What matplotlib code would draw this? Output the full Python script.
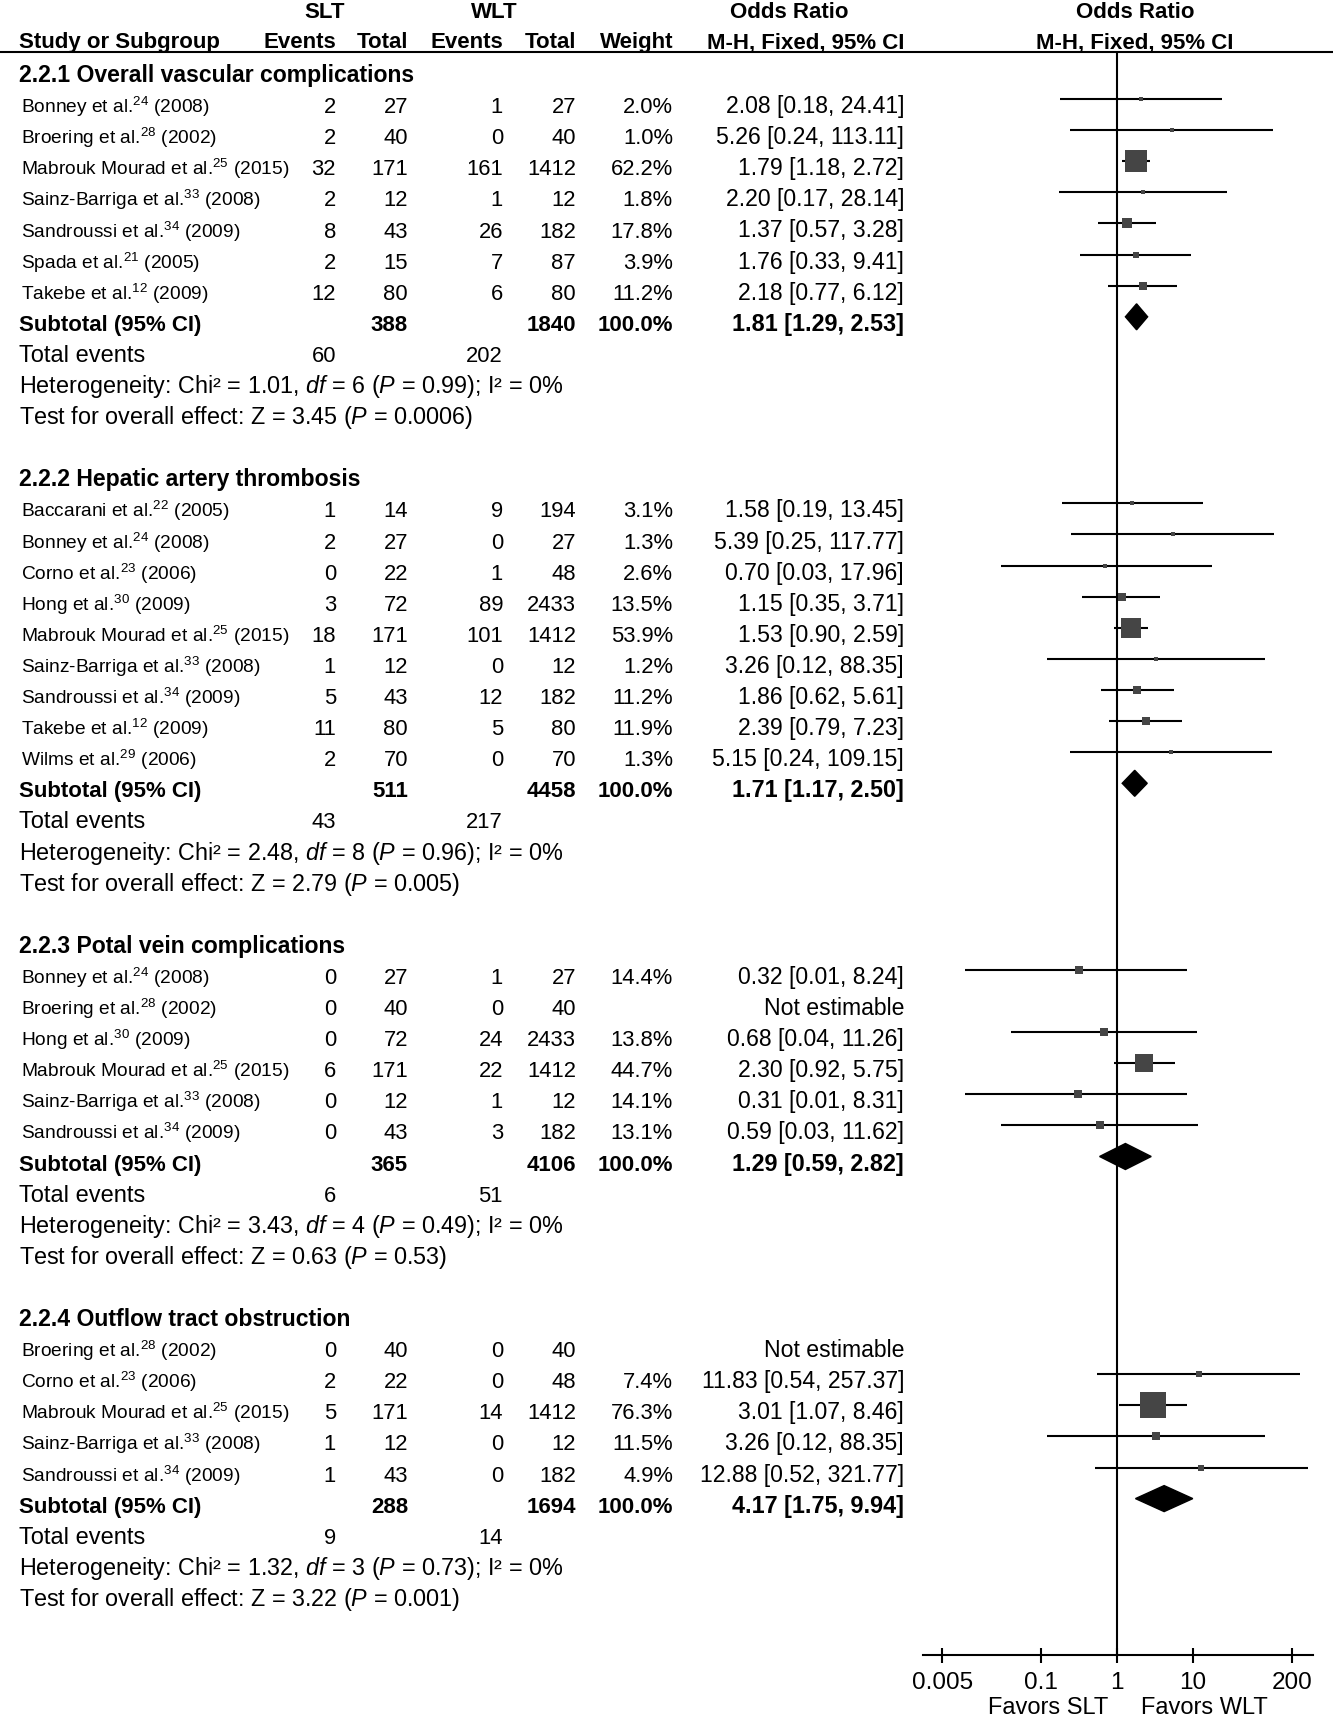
import matplotlib
matplotlib.use("Agg")
import matplotlib.pyplot as plt
from matplotlib.patches import Polygon

# ---- data ----
sub_titles = [
    "2.2.1 Overall vascular complications",
    "2.2.2 Hepatic artery thrombosis",
    "2.2.3 Potal vein complications",
    "2.2.4 Outflow tract obstruction",
]

study_section = [0] * 7 + [1] * 9 + [2] * 6 + [3] * 5
study_author = [
    "Bonney", "Broering", "Mabrouk Mourad", "Sainz-Barriga", "Sandroussi", "Spada", "Takebe",
    "Baccarani", "Bonney", "Corno", "Hong", "Mabrouk Mourad", "Sainz-Barriga", "Sandroussi", "Takebe", "Wilms",
    "Bonney", "Broering", "Hong", "Mabrouk Mourad", "Sainz-Barriga", "Sandroussi",
    "Broering", "Corno", "Mabrouk Mourad", "Sainz-Barriga", "Sandroussi",
]
study_ref = [
    24, 28, 25, 33, 34, 21, 12,
    22, 24, 23, 30, 25, 33, 34, 12, 29,
    24, 28, 30, 25, 33, 34,
    28, 23, 25, 33, 34,
]
study_year = [
    2008, 2002, 2015, 2008, 2009, 2005, 2009,
    2005, 2008, 2006, 2009, 2015, 2008, 2009, 2009, 2006,
    2008, 2002, 2009, 2015, 2008, 2009,
    2002, 2006, 2015, 2008, 2009,
]
slt_events = [2, 2, 32, 2, 8, 2, 12,
              1, 2, 0, 3, 18, 1, 5, 11, 2,
              0, 0, 0, 6, 0, 0,
              0, 2, 5, 1, 1]
slt_total = [27, 40, 171, 12, 43, 15, 80,
             14, 27, 22, 72, 171, 12, 43, 80, 70,
             27, 40, 72, 171, 12, 43,
             40, 22, 171, 12, 43]
wlt_events = [1, 0, 161, 1, 26, 7, 6,
              9, 0, 1, 89, 101, 0, 12, 5, 0,
              1, 0, 24, 22, 1, 3,
              0, 0, 14, 0, 0]
wlt_total = [27, 40, 1412, 12, 182, 87, 80,
             194, 27, 48, 2433, 1412, 12, 182, 80, 70,
             27, 40, 2433, 1412, 12, 182,
             40, 48, 1412, 12, 182]
weight = [2.0, 1.0, 62.2, 1.8, 17.8, 3.9, 11.2,
          3.1, 1.3, 2.6, 13.5, 53.9, 1.2, 11.2, 11.9, 1.3,
          14.4, None, 13.8, 44.7, 14.1, 13.1,
          None, 7.4, 76.3, 11.5, 4.9]
odds = [2.08, 5.26, 1.79, 2.20, 1.37, 1.76, 2.18,
        1.58, 5.39, 0.70, 1.15, 1.53, 3.26, 1.86, 2.39, 5.15,
        0.32, None, 0.68, 2.30, 0.31, 0.59,
        None, 11.83, 3.01, 3.26, 12.88]
ci_low = [0.18, 0.24, 1.18, 0.17, 0.57, 0.33, 0.77,
          0.19, 0.25, 0.03, 0.35, 0.90, 0.12, 0.62, 0.79, 0.24,
          0.01, None, 0.04, 0.92, 0.01, 0.03,
          None, 0.54, 1.07, 0.12, 0.52]
ci_high = [24.41, 113.11, 2.72, 28.14, 3.28, 9.41, 6.12,
           13.45, 117.77, 17.96, 3.71, 2.59, 88.35, 5.61, 7.23, 109.15,
           8.24, None, 11.26, 5.75, 8.31, 11.62,
           None, 257.37, 8.46, 88.35, 321.77]

sub_slt_total = [388, 511, 365, 288]
sub_wlt_total = [1840, 4458, 4106, 1694]
sub_odds = [1.81, 1.71, 1.29, 4.17]
sub_low = [1.29, 1.17, 0.59, 1.75]
sub_high = [2.53, 2.50, 2.82, 9.94]
sub_slt_events = [60, 43, 6, 9]
sub_wlt_events = [202, 217, 51, 14]
het_chi2 = [1.01, 2.48, 3.43, 1.32]
het_df = [6, 8, 4, 3]
het_p = ["0.99", "0.96", "0.49", "0.73"]
het_i2 = [0, 0, 0, 0]
z_value = [3.45, 2.79, 0.63, 3.22]
z_p = ["0.0006", "0.005", "0.53", "0.001"]

axis_ticks = [0.005, 0.1, 1, 10, 200]
axis_ticklabels = ["0.005", "0.1", "1", "10", "200"]

# ---- style ----
plt.rcParams["font.family"] = ["Liberation Sans", "DejaVu Sans"]
plt.rcParams["mathtext.fontset"] = "custom"
plt.rcParams["mathtext.rm"] = "Liberation Sans"
plt.rcParams["mathtext.it"] = "Liberation Sans:italic"
plt.rcParams["mathtext.bf"] = "Liberation Sans:bold"

W, H = 1333, 1717
ROW0, DY = 75.0, 31.1
FS_NAME, FS_NUM, FS_CI, FS_BOLD, FS_TITLE, FS_NOTE = 13.8, 15.8, 16.6, 16, 16.6, 16.8
SQUARE = "#454545"

# column right edges (pixels)
X_NAME = 21
X_LEFT = 19
X_SLT_EV, X_SLT_N, X_WLT_EV, X_WLT_N, X_WT, X_OR = 336, 408, 503, 576, 673, 904

fig = plt.figure(figsize=(W / 100, H / 100), dpi=100)
tax = fig.add_axes([0, 0, 1, 1])
tax.set_xlim(0, W)
tax.set_ylim(H, 0)
tax.axis("off")

# forest panel: x=923..1313 px, y=52..1655 px
fax = fig.add_axes([923 / W, (H - 1655) / H, 390 / W, (1655 - 52) / H])
fax.set_xscale("log")
fax.set_xlim(10 ** (-194 / 76), 10 ** (196 / 76))
fax.set_ylim(1655, 52)
fax.patch.set_alpha(0)
for side in ["top", "left", "right"]:
    fax.spines[side].set_visible(False)
fax.spines["bottom"].set_linewidth(1.5)
fax.set_yticks([])
fax.set_xticks(axis_ticks)
fax.set_xticklabels(axis_ticklabels)
fax.minorticks_off()
fax.tick_params(axis="x", direction="inout", length=10.8, width=1.5,
                pad=7, labelsize=17.5, colors="black")
fax.axvline(1, color="black", lw=1.5, zorder=1)


def put(x, y, s, ha="right", fs=FS_NUM, weight="normal"):
    tax.text(x, y + 7, s, ha=ha, va="baseline", fontsize=fs, fontweight=weight)


# header
put(325, 11, "SLT", ha="center", fs=FS_BOLD, weight="bold")
put(494, 11, "WLT", ha="center", fs=FS_BOLD, weight="bold")
put(789, 11, "Odds Ratio", ha="center", fs=FS_BOLD, weight="bold")
put(1135, 11, "Odds Ratio", ha="center", fs=FS_BOLD, weight="bold")
put(X_LEFT, 41, "Study or Subgroup", ha="left", fs=FS_BOLD, weight="bold")
for x, s in [(X_SLT_EV, "Events"), (X_SLT_N, "Total"), (X_WLT_EV, "Events"),
             (X_WLT_N, "Total"), (X_WT, "Weight"), (X_OR, "M-H, Fixed, 95% CI")]:
    put(x, 41, s, fs=FS_BOLD, weight="bold")
put(1135, 41, "M-H, Fixed, 95% CI", ha="center", fs=FS_BOLD, weight="bold")
tax.axhline(52, color="black", lw=1.5)

row = 0
for k, title in enumerate(sub_titles):
    y = ROW0 + DY * row
    put(X_LEFT, y, title, ha="left", fs=FS_TITLE, weight="bold")
    row += 1
    for i, sec in enumerate(study_section):
        if sec != k:
            continue
        y = ROW0 + DY * row
        put(X_NAME, y, f"{study_author[i]} et al.$^{{{study_ref[i]}}}$ ({study_year[i]})",
            ha="left", fs=FS_NAME)
        put(X_SLT_EV, y, str(slt_events[i]))
        put(X_SLT_N, y, str(slt_total[i]))
        put(X_WLT_EV, y, str(wlt_events[i]))
        put(X_WLT_N, y, str(wlt_total[i]))
        if weight[i] is None:
            put(X_OR, y, "Not estimable", fs=FS_CI)
        else:
            put(X_WT, y, f"{weight[i]:.1f}%")
            put(X_OR, y, f"{odds[i]:.2f} [{ci_low[i]:.2f}, {ci_high[i]:.2f}]", fs=FS_CI)
            ym = y - 7
            fax.plot([ci_low[i], ci_high[i]], [ym, ym], color="black", lw=1.5, zorder=2,
                     solid_capstyle="butt")
            side_pt = (3.9 + 0.3 * weight[i]) * 0.72
            fax.scatter([odds[i]], [ym], marker="s", s=side_pt ** 2, color=SQUARE,
                        linewidths=0, zorder=3)
        row += 1
    # subtotal
    y = ROW0 + DY * row
    put(X_LEFT, y, "Subtotal (95% CI)", ha="left", fs=FS_BOLD, weight="bold")
    put(X_SLT_N, y, str(sub_slt_total[k]), fs=FS_BOLD, weight="bold")
    put(X_WLT_N, y, str(sub_wlt_total[k]), fs=FS_BOLD, weight="bold")
    put(X_WT, y, "100.0%", fs=FS_BOLD, weight="bold")
    put(X_OR, y, f"{sub_odds[k]:.2f} [{sub_low[k]:.2f}, {sub_high[k]:.2f}]",
        fs=16.8, weight="bold")
    ym = y - 7
    fax.add_patch(Polygon([(sub_low[k], ym), (sub_odds[k], ym - 13),
                           (sub_high[k], ym), (sub_odds[k], ym + 13)],
                          closed=True, facecolor="black", edgecolor="black", zorder=3))
    row += 1
    y = ROW0 + DY * row
    put(X_LEFT, y, "Total events", ha="left", fs=17)
    put(X_SLT_EV, y, str(sub_slt_events[k]))
    put(X_WLT_EV, y, str(sub_wlt_events[k]))
    row += 1
    y = ROW0 + DY * row
    put(X_LEFT, y, f"Heterogeneity: Chi² = {het_chi2[k]:.2f}, $\\it{{df}}$ = {het_df[k]} "
                   f"($\\it{{P}}$ = {het_p[k]}); I² = {het_i2[k]}%", ha="left", fs=FS_NOTE)
    row += 1
    y = ROW0 + DY * row
    put(X_LEFT, y, f"Test for overall effect: Z = {z_value[k]:.2f} ($\\it{{P}}$ = {z_p[k]})",
        ha="left", fs=FS_NOTE)
    row += 2

tax.text(1048, 1714, "Favors SLT", ha="center", va="baseline", fontsize=17)
tax.text(1204, 1714, "Favors WLT", ha="center", va="baseline", fontsize=17)

fig.savefig("out.png", dpi=100)
